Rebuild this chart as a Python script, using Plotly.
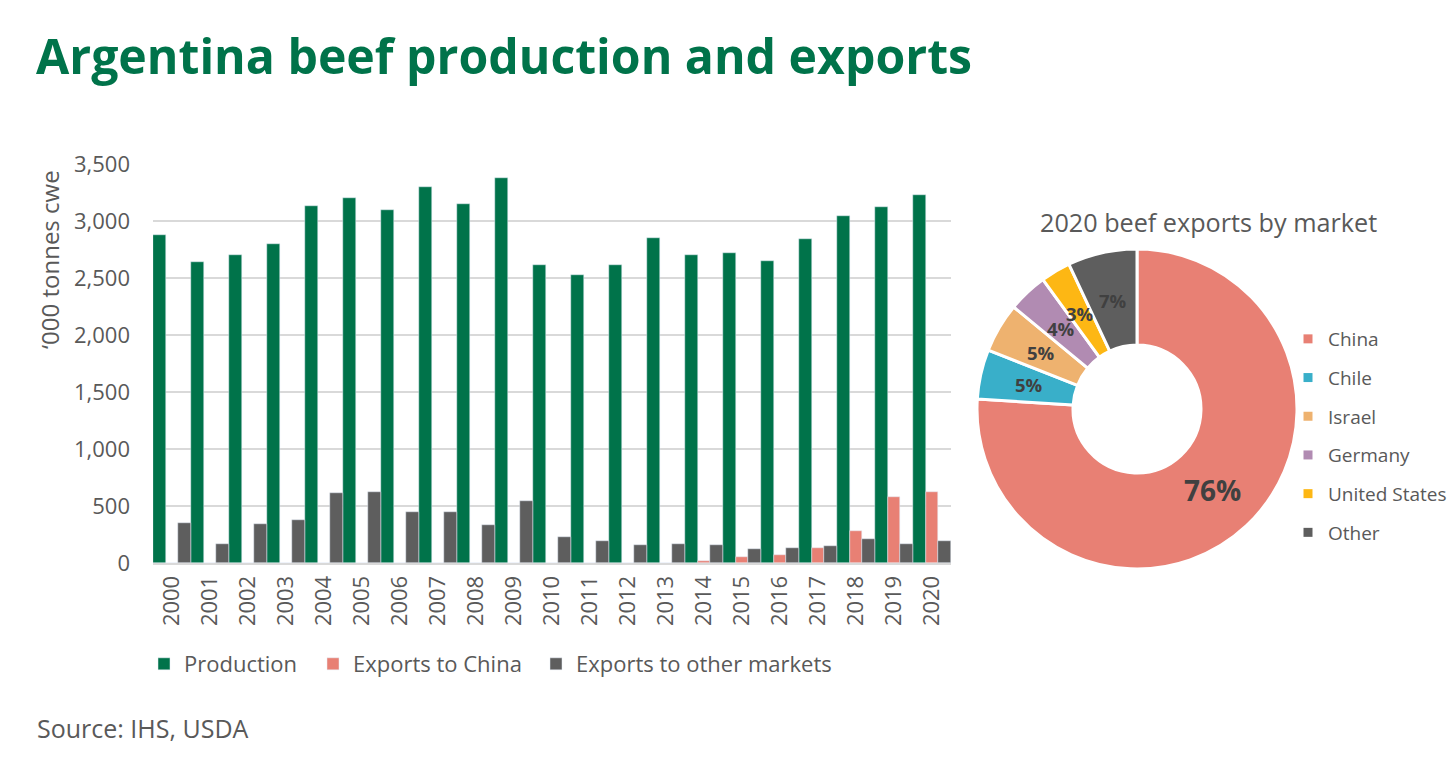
import math
import plotly.graph_objects as go

years = [str(y) for y in range(2000, 2021)]
production = [2880, 2640, 2700, 2800, 3130, 3200, 3100, 3300, 3150, 3380, 2610,
              2530, 2610, 2850, 2700, 2720, 2650, 2840, 3040, 3120, 3230]
exports_china = [0, 0, 0, 0, 0, 0, 0, 0, 0, 0, 0,
                 0, 0, 0, 20, 50, 70, 130, 280, 580, 625]
exports_other = [350, 165, 340, 380, 610, 625, 450, 450, 330, 545, 225,
                 190, 155, 165, 155, 120, 130, 145, 210, 170, 190]

markets = ['China', 'Chile', 'Israel', 'Germany', 'United States', 'Other']
shares = [76, 5, 5, 4, 3, 7]
share_labels = ['76%', '5%', '5%', '4%', '3%', '7%']

GREEN = '#00734A'
SALMON = '#E88074'
DARK = '#5E5E5E'
TEXT = '#595959'
FONT = 'Open Sans'
market_colors = [SALMON, '#39AFC9', '#EEB26F', '#B18BB2', '#FDB714', DARK]

W, H = 1452, 763
PIE_X, PIE_Y, PIE_R = 1137, 409, 160


def note(text, x, y, size, color=TEXT, anchor='left', **kw):
    return dict(text=text, x=x / W, y=1 - y / H, xref='paper', yref='paper',
                xanchor=anchor, yanchor='middle', showarrow=False,
                font=dict(family=FONT, size=size, color=color, weight=kw.pop('weight', 'normal')), **kw)


fig = go.Figure()

# one legend per series so each key sits where it does in the original
fig.add_trace(go.Bar(x=years, y=production, name='Production', marker_color=GREEN, legend='legend'))
fig.add_trace(go.Bar(x=years, y=exports_china, name='Exports to China', marker_color=SALMON, legend='legend3'))
fig.add_trace(go.Bar(x=years, y=exports_other, name='Exports to other markets', marker_color=DARK, legend='legend4'))

fig.add_trace(go.Pie(
    labels=markets, values=shares, textinfo='none',
    sort=False, direction='clockwise', rotation=0, hole=0.4,
    marker=dict(colors=market_colors, line=dict(color='white', width=3)),
    domain=dict(x=[(PIE_X - PIE_R) / W, (PIE_X + PIE_R) / W],
                y=[1 - (PIE_Y + PIE_R) / H, 1 - (PIE_Y - PIE_R) / H]),
    showlegend=False,
))

# pie legend: dummy traces so the rows can be spaced out like the original
for market, color in zip(markets, market_colors):
    fig.add_trace(go.Scatter(
        x=[None], y=[None], mode='markers', name=market, legend='legend2', legendgroup=market,
        marker=dict(symbol='square', size=9, color=color),
    ))

notes = [
    note('Argentina beef production and exports', 34, 55, 48.2, GREEN, weight='bold'),
    note('‘000 tonnes cwe', 49, 260, 24, anchor='center', textangle=-90),
    note('2020 beef exports by market', 1208, 222, 25.2, anchor='center'),
    note('Source: IHS, USDA', 35, 728, 25),
]

# slice labels sit in the middle of the ring, plotly would shrink and push them outwards
done = 0
for share, label in zip(shares, share_labels):
    angle = 2 * math.pi * (done + share / 2) / sum(shares)
    done += share
    lx = PIE_X + 111 * math.sin(angle)
    ly = PIE_Y - 111 * math.cos(angle)
    notes.append(note(label, lx, ly, 28 if share > 50 else 18.5, '#404040', anchor='center', weight='bold'))


def bar_legend(x):
    return dict(orientation='h', x=x / W, y=1 - 664 / H, xanchor='left', yanchor='middle',
                font=dict(size=22, color=TEXT), itemwidth=30, bgcolor='rgba(0,0,0,0)')


fig.update_layout(
    width=W, height=H, margin=dict(l=0, r=0, t=0, b=0, autoexpand=False),
    paper_bgcolor='white', plot_bgcolor='white',
    font=dict(family=FONT, color=TEXT),
    barmode='group', bargap=0, bargroupgap=0,
    xaxis=dict(domain=[153 / W, 951 / W], tickangle=-90, tickfont=dict(size=22, color=TEXT),
               showline=True, linecolor='#D9D9D9', linewidth=2, ticks='', showgrid=False,
               ticklabelstandoff=2),
    yaxis=dict(domain=[1 - 563 / H, 1 - 164 / H], range=[0, 3500], dtick=500, tickformat=',',
               tickfont=dict(size=22, color=TEXT), gridcolor='#D9D9D9', gridwidth=2,
               zeroline=False, ticks='', ticklabelstandoff=22),
    legend=bar_legend(144),
    legend3=bar_legend(313),
    legend4=bar_legend(536),
    legend2=dict(x=1288 / W, y=1 - 436 / H, xanchor='left', yanchor='middle', bgcolor='rgba(0,0,0,0)',
                 font=dict(size=19, color=TEXT), tracegroupgap=11, itemwidth=30),
    annotations=notes,
)

fig.write_html("out.html", post_script="document.body.style.margin='0';", config=dict(displayModeBar=False))
